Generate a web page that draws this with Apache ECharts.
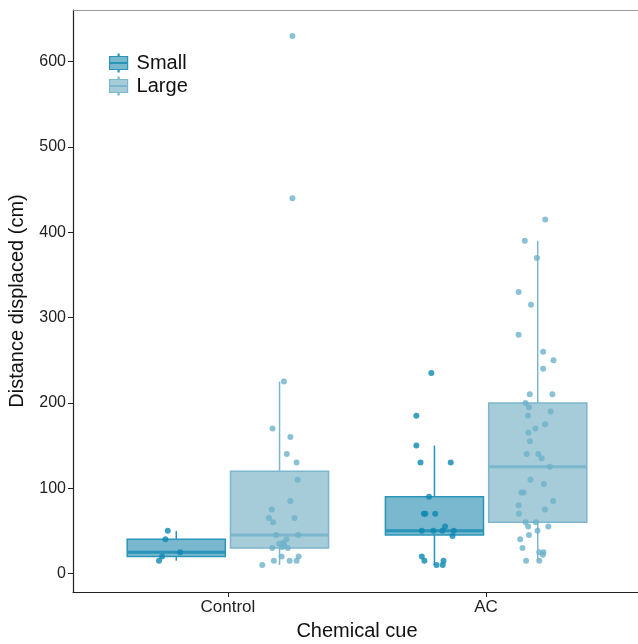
<!DOCTYPE html>
<html lang="en">
<head>
    <meta charset="UTF-8">
    <title>Distance displaced</title>
    <script src="https://cdn.jsdelivr.net/npm/echarts@6/dist/echarts.min.js"></script>
    <style>
        html, body { margin: 0; padding: 0; background: #fff; }
    </style>
</head>
<body>
    <div id="box" style="width: 638px; height: 644px;"></div>
</body>
<script>
    var categories = ['Control', 'AC']
    var groups = ['Small', 'Large']
    var yTicks = [0, 100, 200, 300, 400, 500, 600]

    // box stats per category: [lower whisker, Q1, median, Q3, upper whisker]
    var smallBox = [[15, 20, 25, 40, 50], [10, 45, 50, 90, 150]]
    var largeBox = [[10, 30, 45, 120, 225], [15, 60, 125, 200, 390]]

    // raw points (cm) and the jitter (category units)
    var ctrlSmall = [50, 40, 25, 20, 15]
    var ctrlSmallJit = [-0.033, -0.042, 0.015, -0.055, -0.067]
    var ctrlLarge = [630, 440, 225, 170, 160, 140, 130, 110, 85, 75, 65, 65, 60, 45, 45, 40, 36, 35, 33, 31, 30, 30, 20, 20, 15, 15, 15, 10]
    var ctrlLargeJit = [0.05, 0.05, 0.017, -0.027, 0.042, 0.028, 0.066, 0.070, 0.042, -0.030, 0.058, -0.041, -0.025, -0.013, 0.072, 0.027, 0.014, -0.001, 0.018, 0.010, -0.028, 0.032, 0.008, 0.074, -0.022, 0.039, 0.066, -0.067]
    var acSmall = [235, 185, 150, 130, 130, 90, 70, 70, 70, 55, 50, 50, 50, 50, 44, 20, 15, 15, 10, 10]
    var acSmallJit = [-0.012, -0.070, -0.070, -0.054, 0.063, -0.021, -0.041, -0.035, 0.003, 0.041, -0.049, -0.004, 0.031, 0.075, 0.070, -0.049, -0.039, 0.035, 0.008, 0.032]
    var acLarge = [415, 390, 370, 330, 315, 280, 260, 250, 240, 210, 210, 200, 195, 190, 185, 175, 170, 165, 155, 140, 140, 135, 125, 110, 105, 95, 95, 85, 80, 75, 70, 60, 60, 55, 55, 50, 45, 40, 30, 25, 25, 22, 15, 15]
    var acLargeJit = [0.029, -0.050, -0.003, -0.074, -0.026, -0.074, 0.021, 0.061, 0.021, -0.031, 0.057, -0.047, -0.034, 0.050, -0.038, 0.029, -0.009, -0.036, -0.030, -0.043, 0.002, 0.015, 0.047, -0.028, 0.024, -0.063, -0.055, 0.060, -0.074, 0.028, -0.073, -0.047, -0.007, -0.037, 0.041, -0.001, -0.034, -0.068, -0.059, 0.006, 0.022, 0.020, -0.045, 0.006]

    var DODGE = 0.2
    var BOX_W = 0.38
    var styles = {
        Small: { fill: '#7ab8cf', line: '#2a95b9', dot: '#0e88b2' },
        Large: { fill: '#a6cbd9', line: '#7cb7cd', dot: '#6eb1c9' }
    }

    function boxData(stats, shift) {
        return stats.map(function (s, i) { return [i + 1 + shift].concat(s) })
    }
    function pointData(vals, jit, catIdx, shift) {
        return vals.map(function (v, i) { return [catIdx + 1 + shift + jit[i], v] })
    }

    function boxRenderer(st) {
        return function (params, api) {
            var x = api.value(0)
            var lo = api.value(1), q1 = api.value(2), md = api.value(3), q3 = api.value(4), hi = api.value(5)
            var tl = api.coord([x - BOX_W / 2, q3])
            var br = api.coord([x + BOX_W / 2, q1])
            var mL = api.coord([x - BOX_W / 2, md])
            var mR = api.coord([x + BOX_W / 2, md])
            var pHi = api.coord([x, hi]), pQ3 = api.coord([x, q3]), pQ1 = api.coord([x, q1]), pLo = api.coord([x, lo])
            var ls = { stroke: st.line, lineWidth: 1.5 }
            return {
                type: 'group',
                children: [
                    { type: 'line', shape: { x1: pHi[0], y1: pHi[1], x2: pQ3[0], y2: pQ3[1] }, style: ls },
                    { type: 'line', shape: { x1: pQ1[0], y1: pQ1[1], x2: pLo[0], y2: pLo[1] }, style: ls },
                    { type: 'rect', shape: { x: tl[0], y: tl[1], width: br[0] - tl[0], height: br[1] - tl[1] },
                      style: { fill: st.fill, stroke: st.line, lineWidth: 1.5 } },
                    { type: 'line', shape: { x1: mL[0], y1: mL[1], x2: mR[0], y2: mR[1] },
                      style: { stroke: st.line, lineWidth: 3 } }
                ]
            }
        }
    }

    var iconPath = 'path://M8.5,0 h1 v2.5 h-1 Z M0,2.5 h18 v13 h-18 Z M8.5,15.5 h1 v2.5 h-1 Z M0,8.5 h18 v1 h-18 Z'
    var font = 'Liberation Sans, Arial, sans-serif'

    var mEcharts = echarts.init(document.querySelector('#box'))
    var option = {
        animation: false,
        textStyle: { fontFamily: font },
        grid: { left: 73, right: -3, top: 10, bottom: 52, containLabel: false, outerBoundsMode: 'none' },
        legend: {
            left: 104, top: 48, orient: 'vertical',
            itemWidth: 18, itemHeight: 18, itemGap: 3,
            selectedMode: false,
            textStyle: { fontSize: 20, color: '#111', padding: [0, 0, 0, 4] },
            data: groups.map(function (g) {
                return { name: g, icon: iconPath,
                    itemStyle: { color: styles[g].fill, borderColor: styles[g].line, borderWidth: 1.2 } }
            })
        },
        xAxis: [{
            type: 'value', min: 0.4, max: 2.6,
            name: 'Chemical cue', nameLocation: 'middle', nameGap: 29,
            nameTextStyle: { fontSize: 20, color: '#111' },
            axisLine: { onZero: false, lineStyle: { color: '#222', width: 1.2 } },
            axisTick: { length: 5, lineStyle: { color: '#222' }, customValues: [1, 2] },
            axisLabel: { customValues: [1, 2], fontSize: 17, color: '#222', margin: 7,
                formatter: function (v) { return categories[Math.round(v) - 1] } },
            splitLine: { show: false }
        }, {
            type: 'value', min: 0.4, max: 2.6, position: 'top',
            axisLine: { onZero: false, lineStyle: { color: '#999', width: 1 } },
            axisTick: { show: false }, axisLabel: { show: false }, splitLine: { show: false }
        }],
        yAxis: {
            type: 'value', min: -21.7, max: 660.6,
            name: 'Distance displaced (cm)', nameLocation: 'middle', nameGap: 46,
            nameTextStyle: { fontSize: 20, color: '#111' },
            axisLine: { show: true, onZero: false, lineStyle: { color: '#222', width: 1.2 } },
            axisTick: { show: true, length: 5, lineStyle: { color: '#222' }, customValues: yTicks },
            axisLabel: { customValues: yTicks, fontSize: 16, color: '#222', margin: 7 },
            splitLine: { show: false }
        },
        series: [
            { name: 'Small', type: 'custom', renderItem: boxRenderer(styles.Small), z: 2,
              encode: { x: 0, y: [1, 2, 3, 4, 5] }, data: boxData(smallBox, -DODGE) },
            { name: 'Large', type: 'custom', renderItem: boxRenderer(styles.Large), z: 2,
              encode: { x: 0, y: [1, 2, 3, 4, 5] }, data: boxData(largeBox, DODGE) },
            { name: 'Small', type: 'scatter', symbolSize: 6, z: 5, itemStyle: { color: styles.Small.dot },
              data: pointData(ctrlSmall, ctrlSmallJit, 0, -DODGE).concat(pointData(acSmall, acSmallJit, 1, -DODGE)) },
            { name: 'Large', type: 'scatter', symbolSize: 6, z: 5, itemStyle: { color: styles.Large.dot },
              data: pointData(ctrlLarge, ctrlLargeJit, 0, DODGE).concat(pointData(acLarge, acLargeJit, 1, DODGE)) }
        ]
    }
    mEcharts.setOption(option)
</script>
</html>
